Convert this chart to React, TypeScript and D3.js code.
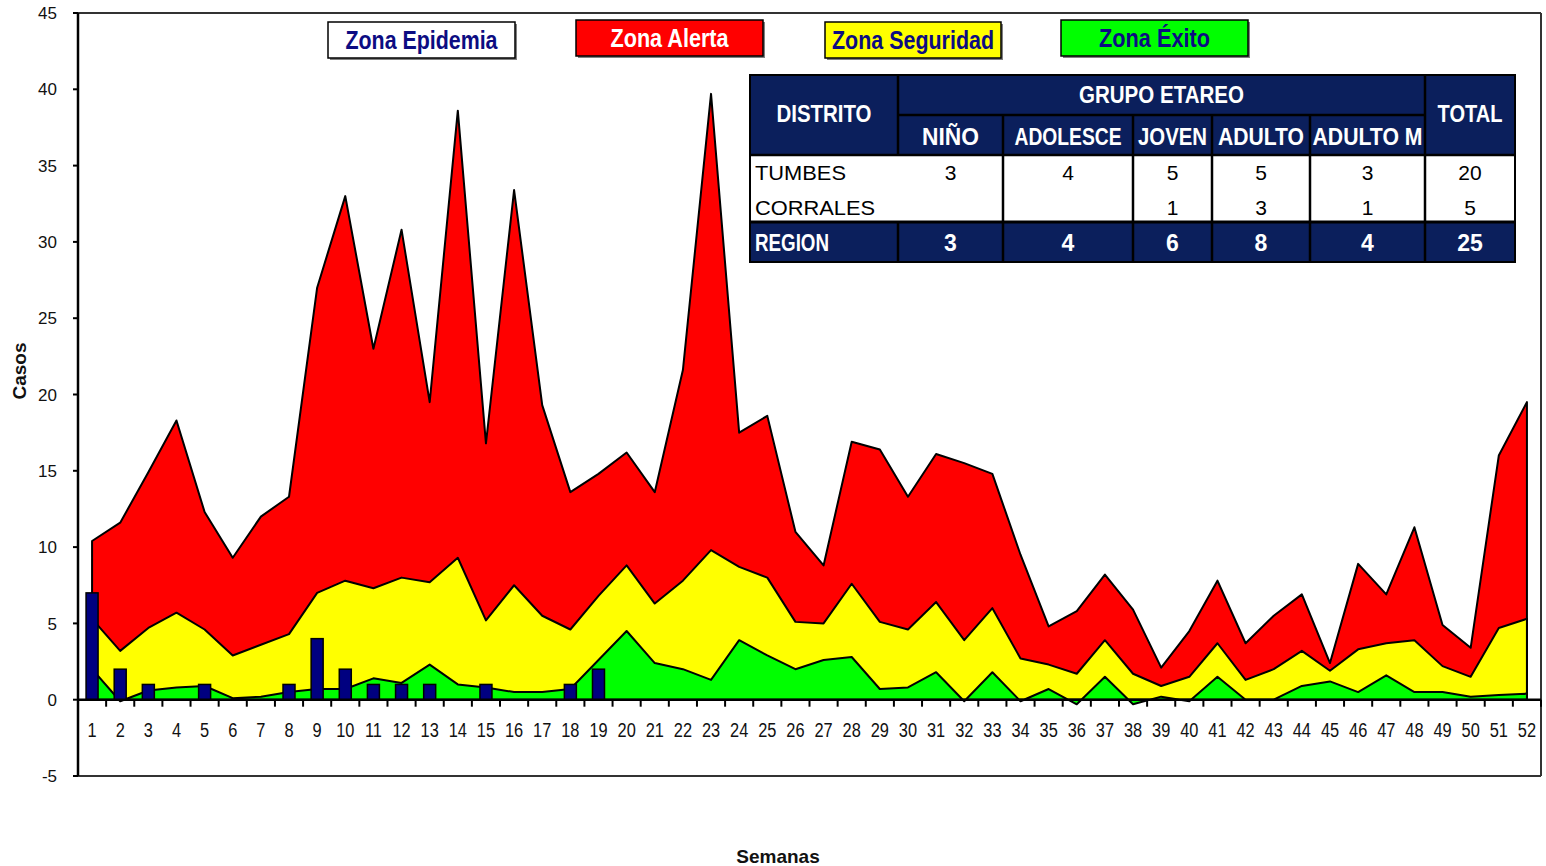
import React from "react";
import * as d3 from "d3";

// ---------------- DATA ----------------
const weeks = [1,2,3,4,5,6,7,8,9,10,11,12,13,14,15,16,17,18,19,20,21,22,23,24,25,26,27,28,29,30,31,32,33,34,35,36,37,38,39,40,41,42,43,44,45,46,47,48,49,50,51,52];

const zonaAlerta = [10.4, 11.6, 14.9, 18.3, 12.3, 9.3, 12.0, 13.3, 27.0, 33.0, 23.0, 30.8, 19.5, 38.6, 16.8, 33.4, 19.3, 13.6, 14.8, 16.2, 13.6, 21.6, 39.7, 17.5, 18.6, 11.0, 8.8, 16.9, 16.4, 13.3, 16.1, 15.5, 14.8, 9.5, 4.8, 5.8, 8.2, 5.9, 2.1, 4.5, 7.8, 3.7, 5.5, 6.9, 2.4, 8.9, 6.9, 11.3, 4.9, 3.4, 16.0, 19.5];

const zonaSeguridad = [5.3, 3.2, 4.7, 5.7, 4.6, 2.9, 3.6, 4.3, 7.0, 7.8, 7.3, 8.0, 7.7, 9.3, 5.2, 7.5, 5.5, 4.6, 6.8, 8.8, 6.3, 7.8, 9.8, 8.7, 8.0, 5.1, 5.0, 7.6, 5.1, 4.6, 6.4, 3.9, 6.0, 2.7, 2.3, 1.7, 3.9, 1.7, 0.9, 1.5, 3.7, 1.3, 2.0, 3.2, 1.9, 3.3, 3.7, 3.9, 2.2, 1.5, 4.7, 5.3];

const zonaExito = [2.0, -0.1, 0.6, 0.8, 0.9, 0.1, 0.2, 0.5, 0.7, 0.7, 1.4, 1.1, 2.3, 1.0, 0.8, 0.5, 0.5, 0.7, 2.6, 4.5, 2.4, 2.0, 1.3, 3.9, 2.9, 2.0, 2.6, 2.8, 0.7, 0.8, 1.8, -0.1, 1.8, -0.1, 0.7, -0.3, 1.5, -0.3, 0.2, -0.1, 1.5, 0.0, 0.0, 0.9, 1.2, 0.5, 1.6, 0.5, 0.5, 0.2, 0.3, 0.4];

const casos = [7, 2, 1, 0, 1, 0, 0, 1, 4, 2, 1, 1, 1, 0, 1, 0, 0, 1, 2, 0, 0, 0, 0, 0, 0, 0, 0, 0, 0, 0, 0, 0, 0, 0, 0, 0, 0, 0, 0, 0, 0, 0, 0, 0, 0, 0, 0, 0, 0, 0, 0, 0];

const legendLabels = ["Zona Epidemia", "Zona Alerta", "Zona Seguridad", "Zona Éxito"];

const grupoLabels = ["NIÑO", "ADOLESCE", "JOVEN", "ADULTO", "ADULTO M"];
const distritos = ["TUMBES", "CORRALES"];
const tumbesVals: (number | null)[] = [3, 4, 5, 5, 3];
const corralesVals: (number | null)[] = [null, null, 1, 3, 1];
const distritoTotals = [20, 5];
const regionVals = [3, 4, 6, 8, 4];
const regionTotal = 25;

// ---------------- LAYOUT / STYLE ----------------
const W = 1546;
const H = 866;
const PL = 78, PR = 1541, PT = 13, PB = 776;
const FONT = "'Liberation Sans', Arial, sans-serif";
const NAVY_TEXT = "#0c0c82";
const TABLE_NAVY = "#0b1f5c";

const legendLayout = [
  { x: 328, y: 22, w: 187, h: 36, fill: "#ffffff", color: NAVY_TEXT, tl: 152 },
  { x: 576, y: 20, w: 187, h: 36, fill: "#ff0000", color: "#ffffff", tl: 118 },
  { x: 825, y: 22, w: 176, h: 36, fill: "#ffff00", color: NAVY_TEXT, tl: 162 },
  { x: 1061, y: 20, w: 187, h: 36, fill: "#00ff00", color: NAVY_TEXT, tl: 111 },
];

const colX = [750, 898, 1003, 1133, 1212, 1310, 1425, 1515];
const subTL = [57, 107, 69, 86, 110];
const T_TOP = 75, T_SUB = 115, T_WHITE = 155, T_WHITE_END = 221, T_BOT = 262;
const rowBase = [180, 215];

export default function App() {
  const x = d3.scaleBand<number>().domain(weeks).range([PL, PR]).paddingInner(0).paddingOuter(0);
  const bw = x.bandwidth();
  const cx = (w: number) => (x(w) as number) + bw / 2;
  const y = d3.scaleLinear().domain([-5, 45]).range([PB, PT]);
  const y0 = y(0);

  const area = d3
    .area<number>()
    .x((_, i) => cx(weeks[i]))
    .y0(y0)
    .y1((d) => y(d));

  const yTicks = y.ticks(10);
  const barW = 12;

  return (
    <div style={{ position: "absolute", left: 0, top: 0 }}>
      <svg width={W} height={H} style={{ display: "block", background: "#fff" }} fontFamily={FONT}>
        <rect x={0} y={0} width={W} height={H} fill="#fff" />
        {/* areas */}
        <path d={area(zonaAlerta) || ""} fill="#ff0000" stroke="#000" strokeWidth={2} strokeLinejoin="round" />
        <path d={area(zonaSeguridad) || ""} fill="#ffff00" stroke="#000" strokeWidth={2} strokeLinejoin="round" />
        <path d={area(zonaExito) || ""} fill="#00ff00" stroke="#000" strokeWidth={2} strokeLinejoin="round" />
        {/* bars */}
        {casos.map((v, i) =>
          v > 0 ? (
            <rect
              key={"b" + i}
              x={cx(weeks[i]) - barW / 2}
              y={y(v)}
              width={barW}
              height={y0 - y(v)}
              fill="#000080"
              stroke="#000"
              strokeWidth={1.5}
            />
          ) : null
        )}
        {/* frame */}
        <line x1={PL} x2={PR} y1={PT} y2={PT} stroke="#333" strokeWidth={2} />
        <line x1={PR} x2={PR} y1={PT} y2={PB} stroke="#333" strokeWidth={2} />
        <line x1={PL} x2={PR} y1={PB} y2={PB} stroke="#333" strokeWidth={2} />
        {/* y axis */}
        <line x1={PL} x2={PL} y1={PT} y2={PB} stroke="#000" strokeWidth={2.5} />
        {yTicks.map((t) => (
          <g key={"yt" + t}>
            <line x1={PL - 5} x2={PL} y1={y(t)} y2={y(t)} stroke="#000" strokeWidth={2} />
            <text x={57} y={y(t)} dy="0.36em" textAnchor="end" fontSize={17} fill="#111">
              {t}
            </text>
          </g>
        ))}
        {/* x axis */}
        <line x1={PL} x2={PR} y1={y0} y2={y0} stroke="#000" strokeWidth={2.5} />
        {weeks.map((w) => (
          <line key={"xt" + w} x1={(x(w) as number) + bw} x2={(x(w) as number) + bw} y1={y0} y2={y0 + 7} stroke="#000" strokeWidth={2} />
        ))}
        {weeks.map((w) => (
          <text
            key={"xl" + w}
            transform={`translate(${cx(w)},737) scale(0.78,1)`}
            textAnchor="middle"
            fontSize={21}
            fill="#111"
          >
            {w}
          </text>
        ))}
        {/* axis titles */}
        <text transform="translate(26,371) rotate(-90)" textAnchor="middle" fontSize={19} fontWeight="bold" fill="#111">
          Casos
        </text>
        <text x={778} y={863} textAnchor="middle" fontSize={19} fontWeight="bold" fill="#111">
          Semanas
        </text>
        {/* legend */}
        {legendLabels.map((lab, i) => {
          const L = legendLayout[i];
          return (
            <g key={"lg" + i}>
              <rect x={L.x + 2} y={L.y + 2} width={L.w} height={L.h} fill="#808080" />
              <rect x={L.x} y={L.y} width={L.w} height={L.h} fill={L.fill} stroke="#000" strokeWidth={1.5} />
              <text
                x={L.x + L.w / 2}
                y={L.y + L.h / 2 + 9}
                textAnchor="middle"
                fontSize={26}
                fontWeight="bold"
                fill={L.color}
                textLength={L.tl}
                lengthAdjust="spacingAndGlyphs"
              >
                {lab}
              </text>
            </g>
          );
        })}
        {/* table */}
        <g>
          <rect x={colX[0]} y={T_TOP} width={colX[7] - colX[0]} height={T_WHITE - T_TOP} fill={TABLE_NAVY} />
          <rect x={colX[0]} y={T_WHITE} width={colX[7] - colX[0]} height={T_WHITE_END - T_WHITE} fill="#fff" />
          <rect x={colX[0]} y={T_WHITE_END + 2} width={colX[7] - colX[0]} height={T_BOT - T_WHITE_END - 2} fill={TABLE_NAVY} />
          {/* borders */}
          <line x1={colX[1]} x2={colX[6]} y1={T_SUB} y2={T_SUB} stroke="#000" strokeWidth={2.5} />
          <line x1={colX[0]} x2={colX[7]} y1={T_WHITE} y2={T_WHITE} stroke="#000" strokeWidth={2.5} />
          <line x1={colX[0]} x2={colX[7]} y1={T_WHITE_END + 1} y2={T_WHITE_END + 1} stroke="#000" strokeWidth={3} />
          <line x1={colX[1]} x2={colX[1]} y1={T_TOP} y2={T_WHITE} stroke="#000" strokeWidth={2.5} />
          <line x1={colX[1]} x2={colX[1]} y1={T_WHITE_END} y2={T_BOT} stroke="#000" strokeWidth={2.5} />
          <line x1={colX[6]} x2={colX[6]} y1={T_TOP} y2={T_BOT} stroke="#000" strokeWidth={2.5} />
          {[2, 3, 4, 5].map((k) => (
            <line key={"vl" + k} x1={colX[k]} x2={colX[k]} y1={T_SUB} y2={T_BOT} stroke="#000" strokeWidth={2.5} />
          ))}
          <rect x={colX[0]} y={T_TOP} width={colX[7] - colX[0]} height={T_BOT - T_TOP} fill="none" stroke="#000" strokeWidth={2} />
          {/* header text */}
          <text x={(colX[0] + colX[1]) / 2} y={122} textAnchor="middle" fontSize={23} fontWeight="bold" fill="#fff" textLength={95} lengthAdjust="spacingAndGlyphs">
            DISTRITO
          </text>
          <text x={(colX[1] + colX[6]) / 2} y={103} textAnchor="middle" fontSize={23} fontWeight="bold" fill="#fff" textLength={165} lengthAdjust="spacingAndGlyphs">
            GRUPO ETAREO
          </text>
          <text x={(colX[6] + colX[7]) / 2} y={122} textAnchor="middle" fontSize={23} fontWeight="bold" fill="#fff" textLength={65} lengthAdjust="spacingAndGlyphs">
            TOTAL
          </text>
          {grupoLabels.map((g, i) => (
            <text
              key={"gh" + i}
              x={(colX[i + 1] + colX[i + 2]) / 2}
              y={145}
              textAnchor="middle"
              fontSize={23}
              fontWeight="bold"
              fill="#fff"
              textLength={subTL[i]}
              lengthAdjust="spacingAndGlyphs"
            >
              {g}
            </text>
          ))}
          {/* body */}
          {distritos.map((d, r) => {
            const vals = r === 0 ? tumbesVals : corralesVals;
            return (
              <g key={"row" + r}>
                <text x={755} y={rowBase[r]} fontSize={21} fill="#000" textLength={r === 0 ? 91 : 120} lengthAdjust="spacingAndGlyphs">
                  {d}
                </text>
                {vals.map((v, i) =>
                  v == null ? null : (
                    <text key={"c" + i} x={(colX[i + 1] + colX[i + 2]) / 2} y={rowBase[r]} textAnchor="middle" fontSize={21} fill="#000">
                      {v}
                    </text>
                  )
                )}
                <text x={(colX[6] + colX[7]) / 2} y={rowBase[r]} textAnchor="middle" fontSize={21} fill="#000">
                  {distritoTotals[r]}
                </text>
              </g>
            );
          })}
          <text x={755} y={251} fontSize={23} fontWeight="bold" fill="#fff" textLength={74} lengthAdjust="spacingAndGlyphs">
            REGION
          </text>
          {regionVals.map((v, i) => (
            <text key={"rv" + i} x={(colX[i + 1] + colX[i + 2]) / 2} y={251} textAnchor="middle" fontSize={23} fontWeight="bold" fill="#fff">
              {v}
            </text>
          ))}
          <text x={(colX[6] + colX[7]) / 2} y={251} textAnchor="middle" fontSize={23} fontWeight="bold" fill="#fff">
            {regionTotal}
          </text>
        </g>
      </svg>
    </div>
  );
}
